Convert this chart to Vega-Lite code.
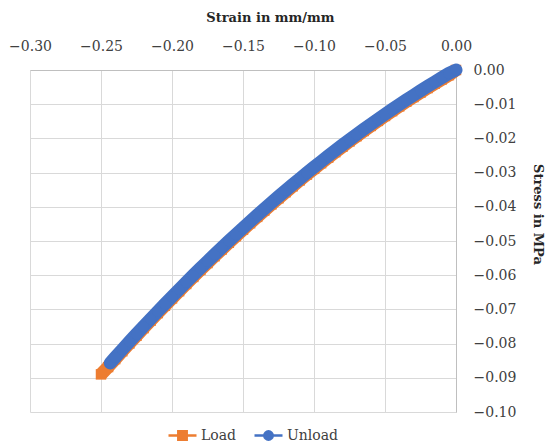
{
  "$schema": "https://vega.github.io/schema/vega-lite/v6.json",
  "width": 426,
  "height": 342,
  "autosize": "none",
  "padding": {"left": 30, "top": 70, "right": 94, "bottom": 32},
  "background": "#ffffff",
  "config": {
    "view": {"stroke": null},
    "font": "DejaVu Serif",
    "axis": {
      "labelFont": "DejaVu Serif",
      "labelFontSize": 14,
      "labelColor": "#404040",
      "labelFlush": false,
      "titleFont": "DejaVu Serif",
      "titleFontSize": 13,
      "titleFontWeight": "bold",
      "titleColor": "#262626",
      "gridColor": "#D9D9D9",
      "gridWidth": 1,
      "domainColor": "#BFBFBF",
      "ticks": false,
      "tickSize": 0
    },
    "legend": {
      "title": null,
      "orient": "none",
      "direction": "horizontal",
      "legendY": 350,
      "symbolSize": 784,
      "symbolStrokeWidth": 2.5,
      "labelFont": "DejaVu Serif",
      "labelFontSize": 14,
      "labelColor": "#404040",
      "labelOffset": 3
    }
  },
  "resolve": {"scale": {"fill": "independent"}, "legend": {"fill": "independent"}},
  "data": {
    "values": [
      {"series": "Load", "strain": 0, "stress": 0},
      {"series": "Load", "strain": -0.005, "stress": -0.00151},
      {"series": "Load", "strain": -0.01, "stress": -0.00274},
      {"series": "Load", "strain": -0.015, "stress": -0.004},
      {"series": "Load", "strain": -0.02, "stress": -0.00528},
      {"series": "Load", "strain": -0.025, "stress": -0.00658},
      {"series": "Load", "strain": -0.03, "stress": -0.00791},
      {"series": "Load", "strain": -0.035, "stress": -0.00925},
      {"series": "Load", "strain": -0.04, "stress": -0.01063},
      {"series": "Load", "strain": -0.045, "stress": -0.01202},
      {"series": "Load", "strain": -0.05, "stress": -0.01344},
      {"series": "Load", "strain": -0.055, "stress": -0.01488},
      {"series": "Load", "strain": -0.06, "stress": -0.01635},
      {"series": "Load", "strain": -0.065, "stress": -0.01783},
      {"series": "Load", "strain": -0.07, "stress": -0.01935},
      {"series": "Load", "strain": -0.075, "stress": -0.02088},
      {"series": "Load", "strain": -0.08, "stress": -0.02244},
      {"series": "Load", "strain": -0.085, "stress": -0.02402},
      {"series": "Load", "strain": -0.09, "stress": -0.02562},
      {"series": "Load", "strain": -0.095, "stress": -0.02725},
      {"series": "Load", "strain": -0.1, "stress": -0.0289},
      {"series": "Load", "strain": -0.105, "stress": -0.03057},
      {"series": "Load", "strain": -0.11, "stress": -0.03227},
      {"series": "Load", "strain": -0.115, "stress": -0.03399},
      {"series": "Load", "strain": -0.12, "stress": -0.03573},
      {"series": "Load", "strain": -0.125, "stress": -0.0375},
      {"series": "Load", "strain": -0.13, "stress": -0.03929},
      {"series": "Load", "strain": -0.135, "stress": -0.0411},
      {"series": "Load", "strain": -0.14, "stress": -0.04294},
      {"series": "Load", "strain": -0.145, "stress": -0.0448},
      {"series": "Load", "strain": -0.15, "stress": -0.04668},
      {"series": "Load", "strain": -0.155, "stress": -0.04859},
      {"series": "Load", "strain": -0.16, "stress": -0.05051},
      {"series": "Load", "strain": -0.165, "stress": -0.05247},
      {"series": "Load", "strain": -0.17, "stress": -0.05444},
      {"series": "Load", "strain": -0.175, "stress": -0.05644},
      {"series": "Load", "strain": -0.18, "stress": -0.05846},
      {"series": "Load", "strain": -0.185, "stress": -0.06051},
      {"series": "Load", "strain": -0.19, "stress": -0.06257},
      {"series": "Load", "strain": -0.195, "stress": -0.06467},
      {"series": "Load", "strain": -0.2, "stress": -0.06678},
      {"series": "Load", "strain": -0.205, "stress": -0.06892},
      {"series": "Load", "strain": -0.21, "stress": -0.07108},
      {"series": "Load", "strain": -0.215, "stress": -0.07326},
      {"series": "Load", "strain": -0.22, "stress": -0.07547},
      {"series": "Load", "strain": -0.225, "stress": -0.0777},
      {"series": "Load", "strain": -0.23, "stress": -0.07995},
      {"series": "Load", "strain": -0.235, "stress": -0.08223},
      {"series": "Load", "strain": -0.24, "stress": -0.08453},
      {"series": "Load", "strain": -0.245, "stress": -0.08685},
      {"series": "Load", "strain": -0.25, "stress": -0.089},
      {"series": "Unload", "strain": -0.2435, "stress": -0.08566},
      {"series": "Unload", "strain": -0.24, "stress": -0.08403},
      {"series": "Unload", "strain": -0.235, "stress": -0.08173},
      {"series": "Unload", "strain": -0.23, "stress": -0.07945},
      {"series": "Unload", "strain": -0.225, "stress": -0.0772},
      {"series": "Unload", "strain": -0.22, "stress": -0.07497},
      {"series": "Unload", "strain": -0.215, "stress": -0.07276},
      {"series": "Unload", "strain": -0.21, "stress": -0.07058},
      {"series": "Unload", "strain": -0.205, "stress": -0.06842},
      {"series": "Unload", "strain": -0.2, "stress": -0.06628},
      {"series": "Unload", "strain": -0.195, "stress": -0.06417},
      {"series": "Unload", "strain": -0.19, "stress": -0.06207},
      {"series": "Unload", "strain": -0.185, "stress": -0.06001},
      {"series": "Unload", "strain": -0.18, "stress": -0.05796},
      {"series": "Unload", "strain": -0.175, "stress": -0.05594},
      {"series": "Unload", "strain": -0.17, "stress": -0.05394},
      {"series": "Unload", "strain": -0.165, "stress": -0.05197},
      {"series": "Unload", "strain": -0.16, "stress": -0.05001},
      {"series": "Unload", "strain": -0.155, "stress": -0.04809},
      {"series": "Unload", "strain": -0.15, "stress": -0.04618},
      {"series": "Unload", "strain": -0.145, "stress": -0.0443},
      {"series": "Unload", "strain": -0.14, "stress": -0.04244},
      {"series": "Unload", "strain": -0.135, "stress": -0.0406},
      {"series": "Unload", "strain": -0.13, "stress": -0.03879},
      {"series": "Unload", "strain": -0.125, "stress": -0.037},
      {"series": "Unload", "strain": -0.12, "stress": -0.03523},
      {"series": "Unload", "strain": -0.115, "stress": -0.03349},
      {"series": "Unload", "strain": -0.11, "stress": -0.03177},
      {"series": "Unload", "strain": -0.105, "stress": -0.03007},
      {"series": "Unload", "strain": -0.1, "stress": -0.0284},
      {"series": "Unload", "strain": -0.095, "stress": -0.02675},
      {"series": "Unload", "strain": -0.09, "stress": -0.02512},
      {"series": "Unload", "strain": -0.085, "stress": -0.02352},
      {"series": "Unload", "strain": -0.08, "stress": -0.02194},
      {"series": "Unload", "strain": -0.075, "stress": -0.02038},
      {"series": "Unload", "strain": -0.07, "stress": -0.01885},
      {"series": "Unload", "strain": -0.065, "stress": -0.01733},
      {"series": "Unload", "strain": -0.06, "stress": -0.01585},
      {"series": "Unload", "strain": -0.055, "stress": -0.01438},
      {"series": "Unload", "strain": -0.05, "stress": -0.01294},
      {"series": "Unload", "strain": -0.045, "stress": -0.01152},
      {"series": "Unload", "strain": -0.04, "stress": -0.01013},
      {"series": "Unload", "strain": -0.035, "stress": -0.00875},
      {"series": "Unload", "strain": -0.03, "stress": -0.00741},
      {"series": "Unload", "strain": -0.025, "stress": -0.00608},
      {"series": "Unload", "strain": -0.02, "stress": -0.00478},
      {"series": "Unload", "strain": -0.015, "stress": -0.0035},
      {"series": "Unload", "strain": -0.01, "stress": -0.00224},
      {"series": "Unload", "strain": -0.005, "stress": -0.00101},
      {"series": "Unload", "strain": 0, "stress": 0}
    ]
  },
  "encoding": {
    "x": {
      "field": "strain",
      "type": "quantitative",
      "scale": {"domain": [-0.3, 0], "nice": false, "zero": false},
      "axis": {
        "orient": "top",
        "title": "Strain in mm/mm",
        "values": [-0.3, -0.25, -0.2, -0.15, -0.1, -0.05, 0],
        "format": ".2f",
        "labelPadding": 17,
        "titleX": 240,
        "titleY": -46,
        "titleBaseline": "bottom"
      }
    },
    "y": {
      "field": "stress",
      "type": "quantitative",
      "scale": {"domain": [-0.1, 0], "nice": false, "zero": false},
      "axis": {
        "orient": "right",
        "title": "Stress in MPa",
        "values": [0, -0.01, -0.02, -0.03, -0.04, -0.05, -0.06, -0.07, -0.08, -0.09, -0.1],
        "format": ".2f",
        "labelAlign": "left",
        "labelPadding": 17,
        "titleX": 81,
        "titleY": 144,
        "titleBaseline": "middle"
      }
    }
  },
  "layer": [
    {
      "transform": [{"filter": "datum.series === 'Load'"}],
      "mark": {"type": "line", "color": "#ED7D31", "strokeWidth": 13, "strokeCap": "butt", "strokeJoin": "round"},
      "encoding": {}
    },
    {
      "transform": [{"filter": "datum.series === 'Load'"}],
      "mark": {"type": "point", "shape": "square", "filled": true, "opacity": 1, "size": 110},
      "encoding": {
        "fill": {
          "field": "series",
          "type": "nominal",
          "scale": {"domain": ["Load"], "range": ["#ED7D31"]},
          "legend": {
            "legendX": 137,
            "symbolType": "M-1,0H1M-0.3,-0.3H0.3V0.3H-0.3Z",
            "symbolStrokeColor": "#ED7D31",
            "symbolFillColor": "#ED7D31",
            "symbolStrokeWidth": 2.5
          }
        }
      }
    },
    {
      "transform": [{"filter": "datum.series === 'Unload'"}],
      "mark": {"type": "line", "color": "#4472C4", "strokeWidth": 13, "strokeCap": "round", "strokeJoin": "round"},
      "encoding": {}
    },
    {
      "transform": [{"filter": "datum.series === 'Unload'"}],
      "mark": {"type": "point", "shape": "circle", "filled": true, "opacity": 1, "size": 120},
      "encoding": {
        "fill": {
          "field": "series",
          "type": "nominal",
          "scale": {"domain": ["Unload"], "range": ["#4472C4"]},
          "legend": {
            "legendX": 223,
            "symbolType": "M-1,0H1M0.3,0A0.3,0.3,0,1,1,-0.3,0A0.3,0.3,0,1,1,0.3,0Z",
            "symbolStrokeColor": "#4472C4",
            "symbolFillColor": "#4472C4",
            "symbolStrokeWidth": 2.5
          }
        }
      }
    }
  ]
}
